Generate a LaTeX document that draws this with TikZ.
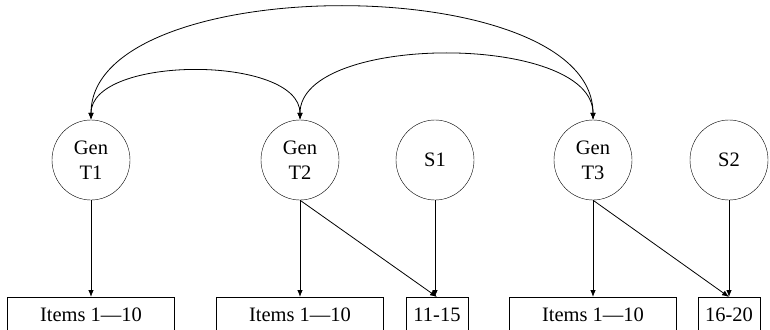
\documentclass[tikz,border=0pt]{standalone}
\usepackage{fontspec}
\setmainfont{Liberation Serif}
\usetikzlibrary{shapes.geometric,arrows.meta}
\tikzset{
  latent/.style={ellipse,draw,minimum width=78pt,minimum height=80pt,inner sep=0pt,
    align=center,font=\fontsize{20.5}{25}\selectfont},
  manifest/.style={rectangle,draw,anchor=north,minimum height=42pt,inner sep=0pt,
    text height=24pt,text depth=18pt,font=\fontsize{20.5}{25}\selectfont},
  path/.style={line width=0.8pt,-{Latex[length=7pt,width=5.5pt]}},
  cov/.style={line width=0.8pt,{Latex[length=7pt,width=5.5pt]}-{Latex[length=7pt,width=5.5pt]}}
}
\begin{document}
\begin{tikzpicture}[x=1pt,y=-1pt]
        \pgfmathsetmacro{\latentRow}{160}
        \pgfmathsetmacro{\itemRow}{297}
        \useasboundingbox (0,0) rectangle (770,329);
        % latent factors
        \node[latent] (genT1) at (91,\latentRow) {Gen\\T1};
        \node[latent] (genT2) at (300,\latentRow) {Gen\\T2};
        \node[latent] (sOne) at (435,\latentRow) {S1};
        \node[latent] (genT3) at (593,\latentRow) {Gen\\T3};
        \node[latent] (sTwo) at (729,\latentRow) {S2};
        % item parcels
        \node[manifest,minimum width=167pt] (itemsT1) at (91,\itemRow) {Items 1—10};
        \node[manifest,minimum width=167pt] (itemsT2) at (300,\itemRow) {Items 1—10};
        \node[manifest,minimum width=62pt] (itemsS1) at (437,\itemRow) {11-15};
        \node[manifest,minimum width=167pt] (itemsT3) at (593,\itemRow) {Items 1—10};
        \node[manifest,minimum width=62pt] (itemsS2) at (729,\itemRow) {16-20};
        % loadings
        \draw[path] (genT1.south) -- (itemsT1.north);
        \draw[path] (genT2.south) -- (itemsT2.north);
        \draw[path] (genT2.south) -- (itemsS1.north);
        \draw[path] (sOne.south) -- (sOne.south |- itemsS1.north);
        \draw[path] (genT3.south) -- (genT3.south |- itemsT3.north);
        \draw[path] (genT3.south) -- (itemsS2.north);
        \draw[path] (sTwo.south) -- (itemsS2.north);
        % covariances
        \draw[cov] (genT1.north) .. controls +(0,-65) and +(0,-65) .. (genT2.north);
        \draw[cov] (genT2.north) .. controls +(0,-87) and +(0,-87) .. (genT3.north);
        \draw[cov] (genT1.north) .. controls +(0,-150) and +(0,-150) .. (genT3.north);
      \end{tikzpicture}
\end{document}
